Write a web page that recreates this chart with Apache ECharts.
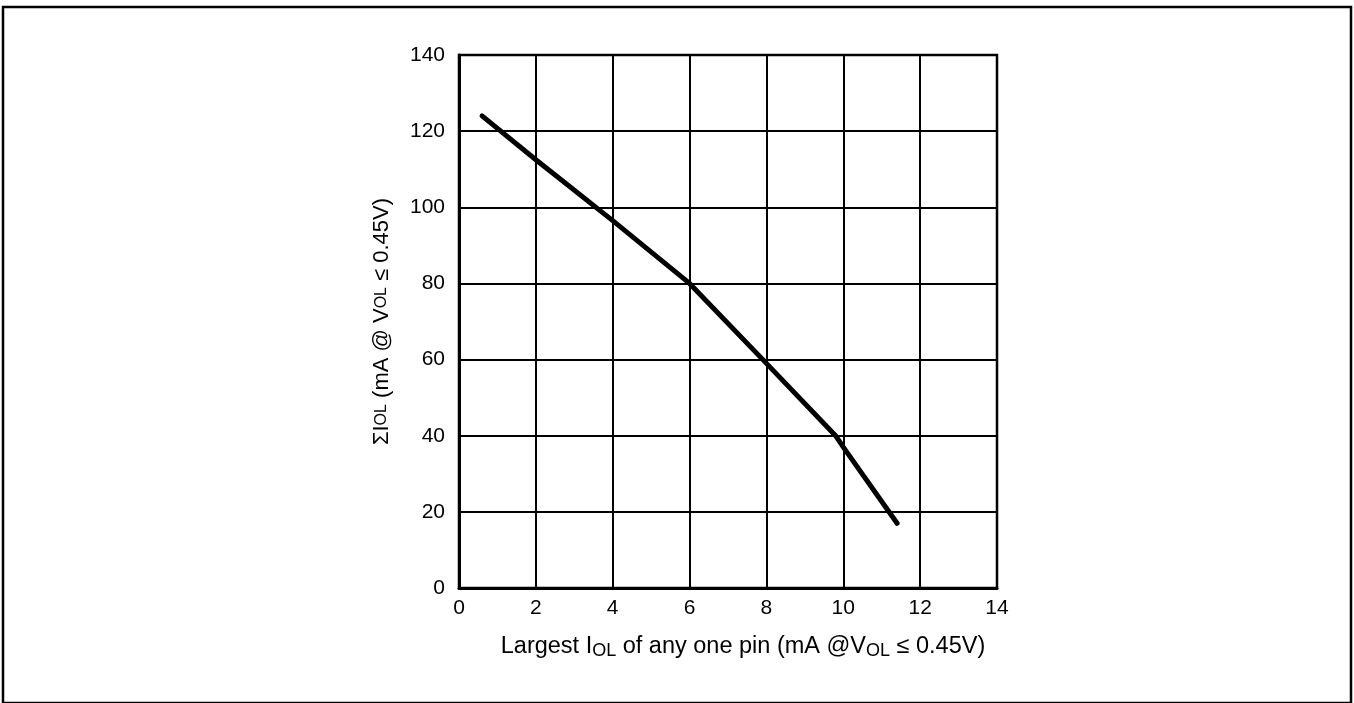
<!DOCTYPE html>
<html>
<head>
<meta charset="utf-8">
<script src="https://cdn.jsdelivr.net/npm/echarts@6/dist/echarts.min.js"></script>
<style>
  html, body { margin: 0; padding: 0; background: #fff; }
  #chart { width: 1354px; height: 703px; }
</style>
</head>
<body>
<div id="chart"></div>
<script>
// largest IOL of any one pin (mA) vs total IOL (mA)
const largestIol = [0.6, 2, 4, 6, 8, 9.8, 10, 11.4];
const sumIol = [124, 112.5, 96.5, 80, 59, 40, 37, 17];
const xTicks = [0, 2, 4, 6, 8, 10, 12, 14];
const yTicks = [0, 20, 40, 60, 80, 100, 120, 140];

const font = 'Liberation Sans, Arial, sans-serif';
const chart = echarts.init(document.getElementById('chart'));

chart.setOption({
  animation: false,
  backgroundColor: '#fff',
  // outer frame + plot box
  graphic: [{
    type: 'rect',
    shape: { x: 3, y: 7, width: 1348, height: 696 },
    style: { fill: 'none', stroke: '#000', lineWidth: 2.5 },
    silent: true
  }, {
    type: 'rect',
    shape: { x: 459, y: 55, width: 538, height: 533 },
    style: { fill: 'none', stroke: '#000', lineWidth: 2.5 },
    silent: true
  }],
  grid: { left: 459, right: 357, top: 55, bottom: 115 },
  xAxis: {
    type: 'value',
    min: xTicks[0],
    max: xTicks[xTicks.length - 1],
    interval: 2,
    name: 'Largest I{s|OL} of any one pin (mA @V{s|OL} ≤ 0.45V)',
    nameLocation: 'middle',
    nameGap: 45,
    nameTextStyle: {
      fontFamily: font, fontSize: 23.5, color: '#000', lineHeight: 27,
      padding: [0, 0, 0, 30],
      rich: { s: { fontFamily: font, fontSize: 18, lineHeight: 14, verticalAlign: 'bottom', color: '#000' } }
    },
    axisLine: { show: true, lineStyle: { color: '#000', width: 3 } },
    axisTick: { show: false },
    axisLabel: { fontFamily: font, fontSize: 21, color: '#000', margin: 10 },
    splitLine: { show: true, lineStyle: { color: '#000', width: 2 } }
  },
  yAxis: {
    type: 'value',
    min: yTicks[0],
    max: yTicks[yTicks.length - 1],
    interval: 20,
    name: 'ΣI{s|OL} (mA @ V{s|OL} ≤ 0.45V)',
    nameLocation: 'middle',
    nameGap: 66,
    nameTextStyle: {
      fontFamily: font, fontSize: 22, color: '#000',
      rich: { s: { fontFamily: font, fontSize: 16, color: '#000' } }
    },
    axisLine: { show: true, lineStyle: { color: '#000', width: 3 } },
    axisTick: { show: false },
    axisLabel: { fontFamily: font, fontSize: 21, color: '#000', margin: 14 },
    splitLine: { show: true, lineStyle: { color: '#000', width: 2 } }
  },
  series: [{
    type: 'line',
    data: largestIol.map((x, i) => [x, sumIol[i]]),
    showSymbol: false,
    lineStyle: { color: '#000', width: 5, cap: 'round', join: 'round' }
  }]
});
</script>
</body>
</html>
